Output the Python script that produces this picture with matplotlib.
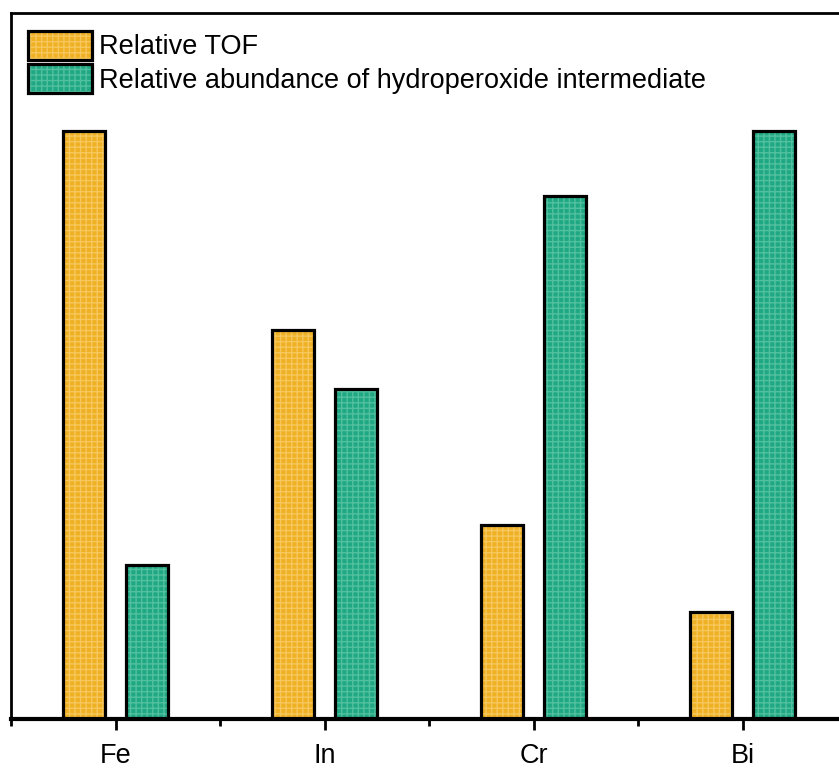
import matplotlib
matplotlib.use("Agg")
import matplotlib.pyplot as plt
import numpy as np
from matplotlib.patches import Patch
from matplotlib.legend_handler import HandlerTuple

categories = ["Fe", "In", "Cr", "Bi"]
relative_tof = [1.00, 0.662, 0.330, 0.182]
relative_abundance = [0.262, 0.561, 0.889, 1.00]
series_labels = ["Relative TOF", "Relative abundance of hydroperoxide intermediate"]

plt.rcParams['font.family'] = ['Liberation Sans', 'DejaVu Sans']
plt.rcParams['hatch.linewidth'] = 1.0

fig = plt.figure(figsize=(8.39, 7.69), dpi=100)
ax = fig.add_axes([11/839, 50/769, 836/839, 706/769])

x = np.arange(len(categories))
w = 0.2
off = 0.15
c1, h1 = '#EFB024', '#F6C75C'
c2, h2 = '#1FA883', '#52C09F'
elw = 2.3

ax.bar(x - off, relative_tof, w, color=c1, edgecolor=h1, hatch='+++', linewidth=0, zorder=2)
ax.bar(x - off, relative_tof, w, fill=False, edgecolor='black', linewidth=elw, zorder=3)
ax.bar(x + off, relative_abundance, w, color=c2, edgecolor=h2, hatch='+++', linewidth=0, zorder=2)
ax.bar(x + off, relative_abundance, w, fill=False, edgecolor='black', linewidth=elw, zorder=3)

ax.set_xlim(-0.5, 3.5)
ax.set_ylim(0, 1.2)
ax.set_yticks([])
ax.set_xticks(x)
ax.set_xticklabels(categories, fontsize=19.5)
ax.set_xticks([-0.5, 0.5, 1.5, 2.5], minor=True)
ax.tick_params(axis='x', which='major', length=8, width=2, direction='out', pad=9)
ax.tick_params(axis='x', which='minor', length=5, width=2, direction='out')
for s in ['left', 'top', 'right']:
    ax.spines[s].set_linewidth(2)
ax.spines['bottom'].set_linewidth(3)

hA = (Patch(facecolor=c1, edgecolor=h1, hatch='+++', linewidth=0),
      Patch(fill=False, edgecolor='black', linewidth=elw))
hB = (Patch(facecolor=c2, edgecolor=h2, hatch='+++', linewidth=0),
      Patch(fill=False, edgecolor='black', linewidth=elw))
ax.legend([hA, hB], series_labels, handler_map={tuple: HandlerTuple(ndivide=1, pad=0)},
          loc='upper left', bbox_to_anchor=(17/836, 1 - 18/706), borderaxespad=0, borderpad=0,
          frameon=False, fontsize=19.5, handlelength=2.37, handleheight=1.25,
          handletextpad=0.26, labelspacing=0.15)

fig.savefig("out.png", dpi=100)
